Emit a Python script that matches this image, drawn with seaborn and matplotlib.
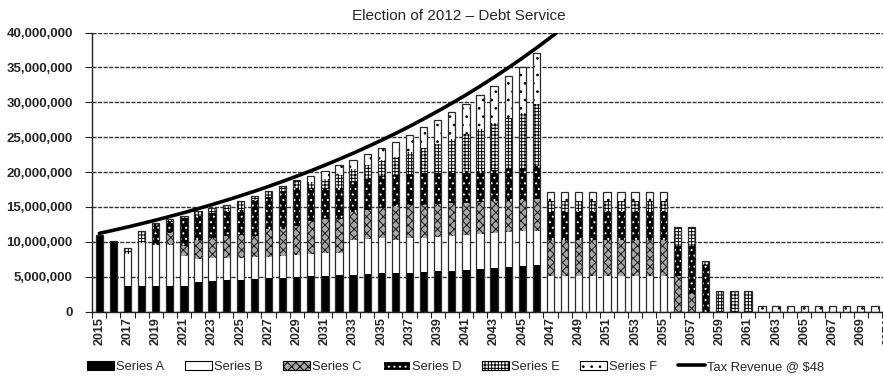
import numpy as np
import pandas as pd
import matplotlib
matplotlib.use("Agg")
import matplotlib.pyplot as plt
import seaborn as sns
from matplotlib.patches import Patch
from matplotlib.lines import Line2D
from matplotlib.ticker import FuncFormatter, FixedLocator

# ---------------- data (values in millions of dollars) ----------------
years = list(range(2015, 2072))

series_a = [10.9, 10.1, 3.67, 3.67, 3.67, 3.67, 3.67, 4.29, 4.38, 4.48,
            4.52, 4.6, 4.76, 4.86, 4.95, 5.05, 5.1, 5.19, 5.29, 5.38,
            5.45, 5.5, 5.55, 5.65, 5.76, 5.86, 6.0, 6.1, 6.2, 6.33,
            6.48, 6.6] + [0] * 25
series_b = [0, 0, 4.53, 6.19, 5.93, 5.83, 4.28, 3.21, 3.22, 3.19,
            3.18, 3.26, 3.1, 3.09, 3.1, 3.15, 3.33, 3.24, 4.91, 5.02,
            5.05, 4.8, 4.95, 4.95, 4.94, 5.0, 5.0, 5.0, 5.0, 5.07,
            5.02, 4.97] + [5.1] * 9 + [0] * 16
series_c = [0, 0, 0, 0, 0, 1.7, 1.45, 2.8, 3.0, 3.13,
            3.3, 2.94, 3.9, 3.85, 4.15, 4.75, 4.77, 4.77, 4.1, 4.2,
            4.4, 4.8, 4.7, 4.7, 4.7, 4.64, 4.6, 4.6, 4.6, 4.5,
            4.5, 4.53] + [5.2] * 9 + [5.06, 2.5] + [0] * 14
series_d = [0, 0, 0, 0, 2.6, 1.7, 4.0, 3.4, 3.5, 3.6,
            3.6, 5.2, 4.64, 5.4, 5.5, 4.55, 4.3, 4.5, 4.4, 4.5,
            4.5, 4.5, 4.5, 4.5, 4.4, 4.5, 4.5, 4.5, 4.5, 4.6,
            4.6, 4.7] + [4.1] * 9 + [4.34, 6.9, 6.6] + [0] * 13
series_e = [0, 0, 0.9, 1.74, 0.5, 0.4, 0.36, 0.7, 0.76, 0.9,
            1.3, 0.6, 0.9, 0.75, 1.1, 1.1, 1.5, 1.8, 1.7, 1.9,
            2.3, 2.6, 3.1, 3.6, 4.2, 4.7, 5.3, 6.0, 6.7, 7.3,
            7.9, 8.9] + [1.5] * 9 + [2.7, 2.7, 0.7, 3.0, 3.0, 3.0] + [0] * 10
series_f = [0, 0, 0, 0, 0, 0, 0, 0, 0, 0,
            0, 0, 0, 0, 0, 0.8, 1.1, 1.45, 1.3, 1.6,
            1.8, 2.1, 2.5, 3.0, 3.5, 3.9, 4.4, 4.9, 5.4, 5.9,
            6.5, 7.3] + [1.2] * 9 + [0] * 6 + [0.75] * 10

tax_years = list(range(2015, 2049))
tax_revenue = [11.20, 11.65, 12.11, 12.60, 13.10, 13.63, 14.17, 14.74, 15.33, 15.94,
               16.58, 17.24, 17.93, 18.65, 19.40, 20.17, 20.98, 21.82, 22.69, 23.60,
               24.54, 25.52, 26.54, 27.61, 28.71, 29.86, 31.05, 32.29, 33.59, 34.93,
               36.33, 37.78, 39.29, 40.86]

series_names = ["Series A", "Series B", "Series C", "Series D", "Series E", "Series F"]
line_name = "Tax Revenue @ $48"
title = "Election of 2012 \u2013 Debt Service"
y_ticks = [0, 5e6, 10e6, 15e6, 20e6, 25e6, 30e6, 35e6, 40e6]

# ---------------- style ----------------
sns.set_style("white")
plt.rcParams["font.family"] = ["Liberation Sans", "DejaVu Sans"]
plt.rcParams["hatch.linewidth"] = 0.7

fig = plt.figure(figsize=(8.83, 3.77), dpi=100)
ax = fig.add_axes([0.10447, 0.17374, 0.91025, 0.74005])

df = pd.DataFrame({"year": years, "A": series_a, "B": series_b, "C": series_c,
                   "D": series_d, "E": series_e, "F": series_f})
vals = df[["A", "B", "C", "D", "E", "F"]].to_numpy().T * 1e6
cum = np.cumsum(vals, axis=0)

styles = [
    dict(facecolor="black", edgecolor="black", hatch=None),
    dict(facecolor="white", edgecolor="black", hatch=None),
    dict(facecolor="#a8a8a8", edgecolor="#1a1a1a", hatch="xxxx"),
    dict(facecolor="black", edgecolor="white", hatch="..."),
    dict(facecolor="white", edgecolor="black", hatch="+++++"),
    dict(facecolor="white", edgecolor="black", hatch=".."),
]

bar_w = 0.52
for i in reversed(range(6)):
    st = styles[i]
    sns.barplot(x=df["year"], y=cum[i], native_scale=True, width=bar_w,
                errorbar=None, ax=ax, color=st["facecolor"],
                edgecolor=st["edgecolor"], hatch=st["hatch"], linewidth=0,
                zorder=2)

# outline of each full bar
sns.barplot(x=df["year"], y=cum[-1], native_scale=True, width=bar_w,
            errorbar=None, ax=ax, fill=False, color="#2a2a2a", linewidth=0.9,
            zorder=3)

# tax revenue line
sns.lineplot(x=tax_years, y=np.array(tax_revenue) * 1e6, color="black",
             linewidth=2.6, ax=ax, zorder=4)

# ---------------- axes ----------------
ax.set_xlim(2014.5, 2071.5)
ax.set_ylim(0, 40e6)
ax.set_xlabel("")
ax.set_ylabel("")

ax.yaxis.set_major_locator(FixedLocator(y_ticks))
ax.yaxis.set_major_formatter(FuncFormatter(lambda v, p: f"{v:,.0f}"))
ax.yaxis.grid(True, color="#333333", linewidth=1.0, linestyle=(0, (3, 1)))
ax.xaxis.grid(False)
ax.set_axisbelow(True)

ax.set_xticks(years[::2])
ax.set_xticklabels([str(y) for y in years[::2]], rotation=90,
                   fontweight="bold", fontsize=9)
ax.set_xticks([y + 0.5 for y in years] + [2014.5], minor=True)
ax.tick_params(axis="x", which="major", length=0, pad=4)
ax.tick_params(axis="x", which="minor", length=4, width=0.8, color="#222222",
               direction="out", bottom=True)
ax.tick_params(axis="y", which="major", length=5, width=0.8, color="#222222",
               direction="out", left=True, pad=9)
for lab in ax.get_yticklabels():
    lab.set_fontweight("bold")
    lab.set_fontsize(9.5)

for s in ["top", "right"]:
    ax.spines[s].set_visible(False)
for s in ["left", "bottom"]:
    ax.spines[s].set_color("#222222")
    ax.spines[s].set_linewidth(1.0)

fig.text(0.52, 0.958, title, ha="center", va="center", fontsize=11)

# ---------------- legend ----------------
handles = []
for name, st in zip(series_names, styles):
    ec = "white" if st["facecolor"] == "black" and st["hatch"] else "black"
    handles.append(Patch(facecolor=st["facecolor"], edgecolor=ec,
                         hatch=st["hatch"], linewidth=0.8, label=name))
handles.append(Line2D([0], [0], color="black", linewidth=2.6, label=line_name))

fig.legend(handles=handles, loc="center", bbox_to_anchor=(0.516, 0.027),
           ncol=7, frameon=False, handlelength=2.1, handleheight=0.75,
           handletextpad=0.15, columnspacing=1.6, borderaxespad=0,
           prop=dict(size=9.3))

fig.savefig("out.png", dpi=100, facecolor="white")
